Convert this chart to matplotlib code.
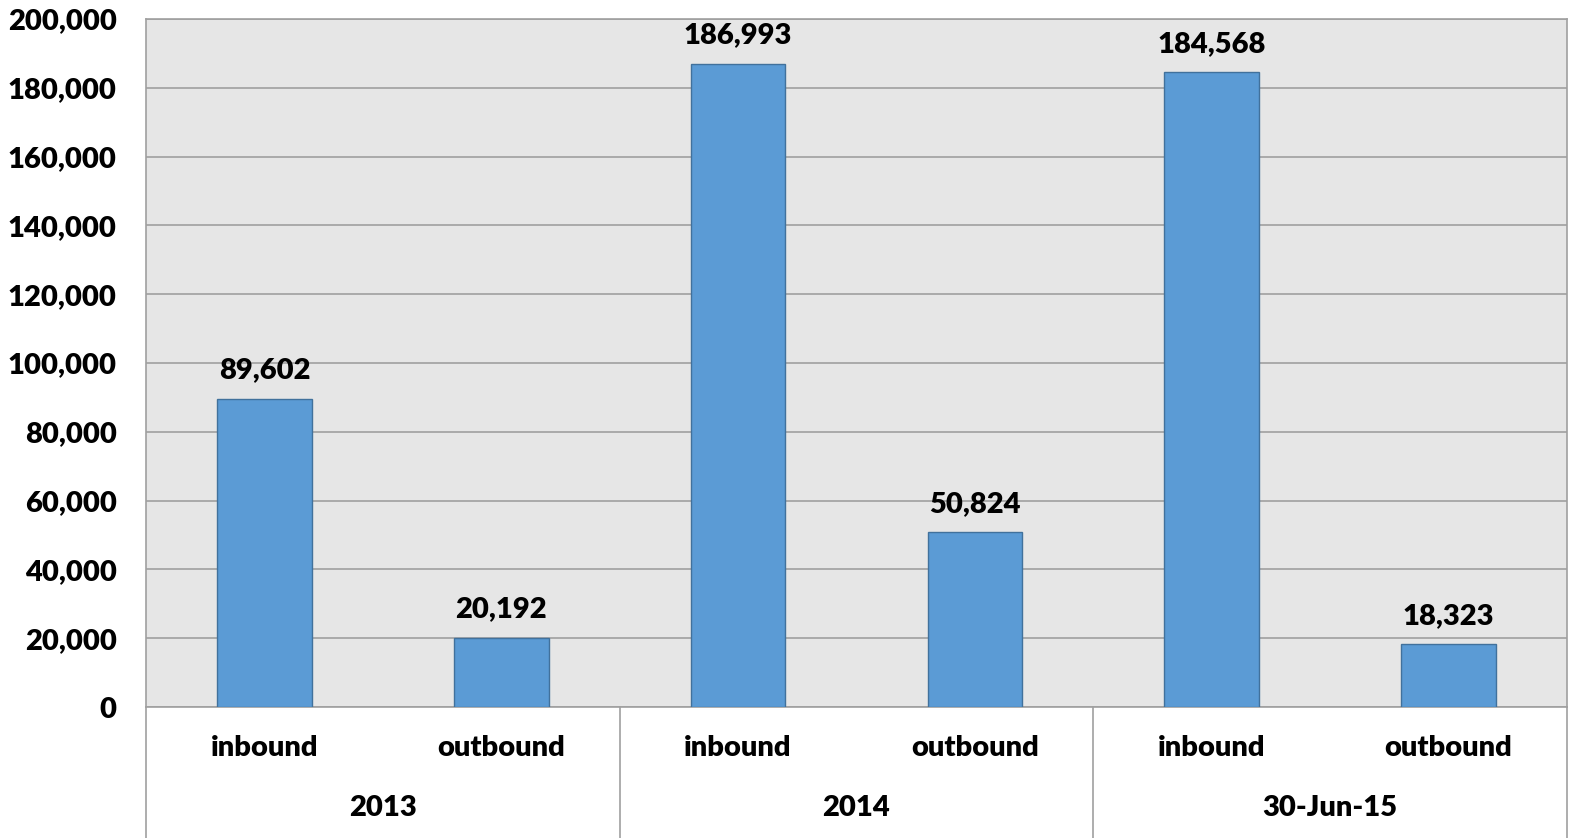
import matplotlib
matplotlib.use("Agg")
import matplotlib.pyplot as plt
from matplotlib.ticker import FuncFormatter, MultipleLocator

years = ["2013", "2014", "30-Jun-15"]
directions = ["inbound", "outbound"]
values = [89602, 20192, 186993, 50824, 184568, 18323]

plt.rcParams['font.family'] = ['Lato', 'DejaVu Sans']
FS = 21
FW = "heavy"
W, H, DPI = 1591, 838, 100
fig = plt.figure(figsize=(W / DPI, H / DPI), dpi=DPI)
ax = fig.add_axes([146 / W, 1 - 707 / H, (1567 - 146) / W, (707 - 19) / H])
ax.set_facecolor("#E6E6E6")

x = list(range(len(values)))
bars = ax.bar(x, values, width=0.4, color="#5B9BD5", edgecolor="#41719C", linewidth=1, zorder=3)
for xi, v in zip(x, values):
    ax.annotate(f"{v:,}", (xi, v), xytext=(0, 11), textcoords="offset points",
                ha="center", va="bottom", fontsize=FS, fontweight=FW, color="black")

ax.set_xlim(-0.5, len(values) - 0.5)
ax.set_ylim(0, 200000)
ax.yaxis.set_major_locator(MultipleLocator(20000))
ax.yaxis.set_major_formatter(FuncFormatter(lambda v, p: f"{int(v):,}"))
ax.grid(axis="y", color="#A0A0A0", linewidth=1.2, zorder=0)
ax.tick_params(axis="y", length=0, labelsize=FS, pad=21)
for lab in ax.get_yticklabels():
    lab.set_fontweight(FW)
ax.set_xticks([])
for s in ["top", "right", "left", "bottom"]:
    ax.spines[s].set_color("#A0A0A0")
    ax.spines[s].set_linewidth(1.2)

# two-level category labels
axh = (707 - 19)
for i, v in enumerate(values):
    ax.text(i, -(748 - 707) / axh, directions[i % 2], transform=ax.get_xaxis_transform(),
            ha="center", va="center", fontsize=FS, fontweight=FW)
for g, yl in enumerate(years):
    ax.text(2 * g + 0.5, -(808 - 707) / axh, yl, transform=ax.get_xaxis_transform(),
            ha="center", va="center", fontsize=FS, fontweight=FW)
for g in range(len(years) + 1):
    ax.plot([2 * g - 0.5, 2 * g - 0.5], [0, -0.25], transform=ax.get_xaxis_transform(),
            color="#A0A0A0", linewidth=1.2, clip_on=False)

fig.savefig("out.png", dpi=DPI)
